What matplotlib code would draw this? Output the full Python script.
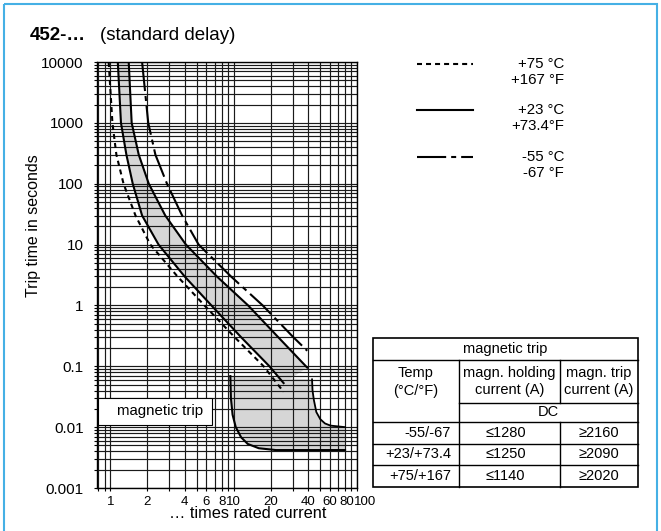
import numpy as np
import matplotlib
matplotlib.use('Agg')
import matplotlib.pyplot as plt
from matplotlib.ticker import FixedLocator, LogLocator, NullFormatter
from matplotlib.patches import Rectangle, Polygon
from matplotlib.transforms import ScaledTranslation

plt.rcParams['font.family'] = ['Liberation Sans', 'DejaVu Sans']
plt.rcParams['lines.scale_dashes'] = False

W, H = 661, 531

# trip curves: x = times rated current, y = trip time (s)
lo23_x = [1.15, 1.22, 1.35, 1.52, 1.81, 2.46, 4.0, 6.6, 11.5, 19.5, 25.4]
lo23_y = [10000, 1000, 300, 100, 30, 10, 3, 1, 0.3, 0.1, 0.053]
hi23_x = [1.41, 1.49, 1.70, 2.05, 2.79, 4.1, 7.3, 13.1, 23, 39.5]
hi23_y = [10000, 1000, 300, 100, 30, 10, 3, 1, 0.3, 0.095]
p75_x = [0.97, 1.04, 1.12, 1.28, 1.60, 2.11, 3.5, 5.8, 10.2, 17.5, 25.4]
p75_y = [10000, 1000, 300, 100, 30, 10, 3, 1, 0.3, 0.1, 0.038]
m55_x = [1.81, 2.03, 2.32, 2.88, 3.82, 5.2, 9.5, 17.2, 30.5, 39.5]
m55_y = [10000, 1000, 300, 100, 30, 10, 3, 1, 0.3, 0.18]

# magnetic trip region
mag_lo_x = [9.4, 9.5, 9.8, 10.4, 11.5, 13.0, 16.0, 22, 80]
mag_lo_y = [0.069, 0.03, 0.016, 0.01, 0.0068, 0.0053, 0.0045, 0.0042, 0.0042]
mag_hi_x = [43.2, 43.6, 44.7, 46.8, 50.4, 55, 61, 80]
mag_hi_y = [0.061, 0.04, 0.028, 0.0177, 0.0135, 0.0115, 0.0106, 0.0100]

xticks = [1, 2, 4, 6, 8, 10, 20, 40, 60, 80, 100]
xlabels = ['1', '2', '4', '6', '8', '10', '20', '40', '60', '80', '100']
yticks = [0.001, 0.01, 0.1, 1, 10, 100, 1000, 10000]
ylabels = ['0.001', '0.01', '0.1', '1', '10', '100', '1000', '10000']

legend_c = ['+75 °C', '+23 °C', '-55 °C']
legend_f = ['+167 °F', '+73.4°F', '-67 °F']

mt_title = 'magnetic trip'
mt_head = ['magn. holding\ncurrent (A)', 'magn. trip\ncurrent (A)']
mt_temp = ['-55/-67', '+23/+73.4', '+75/+167']
mt_hold = ['≤1280', '≤1250', '≤1140']
mt_trip = ['≥2160', '≥2090', '≥2020']

dash75 = (0, (3.6, 2.9))
dash55 = (0, (21.0, 3.6, 3.6, 3.6))

fig = plt.figure(figsize=(W / 100, H / 100), dpi=100)
ax = fig.add_axes([97 / W, 1 - 488 / H, 260 / W, 426 / H])
ax.set_xscale('log')
ax.set_yscale('log')
ax.set_xlim(0.78, 100)
ax.set_ylim(0.001, 10000)

# gray bands
band = list(zip(lo23_x, lo23_y)) + list(zip(hi23_x, hi23_y))[::-1]
ax.add_patch(Polygon(band, closed=True, facecolor='#d6d6d6', edgecolor='none', zorder=1))
mag = list(zip(mag_lo_x, mag_lo_y)) + list(zip(mag_hi_x, mag_hi_y))[::-1]
ax.add_patch(Polygon(mag, closed=True, facecolor='#d6d6d6', edgecolor='none', zorder=1))

ax.plot(lo23_x, lo23_y, color='black', lw=1.5)
ax.plot(hi23_x, hi23_y, color='black', lw=1.5)
ax.plot(p75_x, p75_y, color='black', lw=1.5, linestyle=dash75)
ax.plot(m55_x, m55_y, color='black', lw=1.5, linestyle=dash55)
ax.plot(mag_lo_x, mag_lo_y, color='black', lw=1.5)
ax.plot(mag_hi_x, mag_hi_y, color='black', lw=1.3)

ax.xaxis.set_major_locator(FixedLocator(xticks))
ax.set_xticklabels(xlabels)
ax.xaxis.set_minor_locator(LogLocator(base=10, subs=np.arange(2, 10), numticks=50))
ax.xaxis.set_minor_formatter(NullFormatter())
ax.yaxis.set_major_locator(FixedLocator(yticks))
ax.set_yticklabels(ylabels)
ax.yaxis.set_minor_locator(LogLocator(base=10, subs=np.arange(2, 10), numticks=50))
ax.yaxis.set_minor_formatter(NullFormatter())
ax.tick_params(which='both', direction='out', length=2.5, width=0.8)
ax.tick_params(axis='x', labelsize=9.5, pad=3)
ax.tick_params(axis='y', labelsize=11, pad=7)
ax.grid(True, which='both', color='#1a1a1a', lw=0.85)
for s in ax.spines.values():
    s.set_linewidth(1.0)

# nudge the crowded labels at the right end like the original
xtl = ax.get_xticklabels()
for lab, dx in [(xtl[-2], 2), (xtl[-1], 8)]:
    lab.set_transform(lab.get_transform() + ScaledTranslation(dx / 100, 0, fig.dpi_scale_trans))

# overlay in pixel coordinates for texts, legend and table
ov = fig.add_axes([0, 0, 1, 1])
ov.set_xlim(0, W)
ov.set_ylim(H, 0)
ov.axis('off')
ov.patch.set_visible(False)

ov.add_patch(Rectangle((4, 4), 653, H + 10, fill=False, edgecolor='#45b0e5', lw=1.5, clip_on=False))

ov.text(30, 36, '452-…', fontsize=13.5, fontweight='bold', va='center')
ov.text(100, 36, '(standard delay)', fontsize=13.5, va='center')
ov.text(34, 226, 'Trip time in seconds', rotation=90, fontsize=11.5, ha='center', va='center')
ov.text(248, 514, '… times rated current', fontsize=11.8, ha='center', va='center')

ov.add_patch(Rectangle((98, 398), 114, 27, facecolor='white', edgecolor='black', lw=0.8))
ov.text(160, 411.5, 'magnetic trip', fontsize=10.8, ha='center', va='center')

# legend
leg_y = [64, 110, 157]
styles = [dash75, '-', dash55]
for i in range(3):
    ov.plot([417, 473], [leg_y[i], leg_y[i]], color='black', lw=1.5, linestyle=styles[i])
    ov.text(564, leg_y[i], legend_c[i], fontsize=10.8, ha='right', va='center')
    ov.text(564, leg_y[i] + 16, legend_f[i], fontsize=10.8, ha='right', va='center')

# magnetic trip table
L, R, T, B = 373, 638, 338, 487
c1, c2 = 459, 560
r1, r2, r3, r4, r5 = 360, 403, 422, 443.5, 465
lk = dict(color='black', lw=1.0)
ov.add_patch(Rectangle((L, T), R - L, B - T, fill=False, edgecolor='black', lw=1.2))
ov.plot([L, R], [r1, r1], **lk)
ov.plot([c1, R], [r2, r2], **lk)
for r in [r3, r4, r5]:
    ov.plot([L, R], [r, r], **lk)
ov.plot([c1, c1], [r1, B], **lk)
ov.plot([c2, c2], [r1, r2], **lk)
ov.plot([c2, c2], [r3, B], **lk)
fs = 10.5
ov.text((L + R) / 2, (T + r1) / 2, mt_title, fontsize=fs, ha='center', va='center')
ov.text((L + c1) / 2, 373, 'Temp', fontsize=fs, ha='center', va='center')
ov.text((L + c1) / 2, 391, '(°C/°F)', fontsize=fs, ha='center', va='center')
ov.text((c1 + c2) / 2, (r1 + r2) / 2, mt_head[0], fontsize=fs, ha='center', va='center', linespacing=1.3)
ov.text((c2 + R) / 2, (r1 + r2) / 2, mt_head[1], fontsize=fs, ha='center', va='center', linespacing=1.3)
ov.text((c1 + R) / 2, (r2 + r3) / 2, 'DC', fontsize=fs, ha='center', va='center')
rows = [(r3 + r4) / 2, (r4 + r5) / 2, (r5 + B) / 2]
for i in range(3):
    ov.text(c1 - 8, rows[i], mt_temp[i], fontsize=fs, ha='right', va='center')
    ov.text((c1 + c2) / 2 - 4, rows[i], mt_hold[i], fontsize=fs, ha='center', va='center')
    ov.text((c2 + R) / 2, rows[i], mt_trip[i], fontsize=fs, ha='center', va='center')

fig.savefig('out.png', dpi=100)
